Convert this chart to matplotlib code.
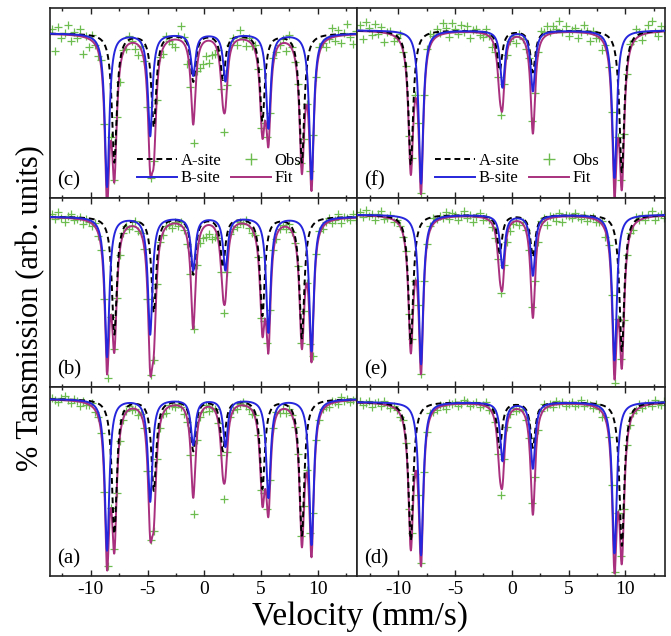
import numpy as np
import matplotlib.pyplot as plt
from matplotlib.ticker import MultipleLocator
from matplotlib.lines import Line2D

plt.rcParams['font.family'] = ['Liberation Serif', 'DejaVu Serif']
plt.rcParams['axes.unicode_minus'] = False

# line positions (mm/s): left column = full sextets, right column = lines 1,3,4,6
pos_b_left = [-8.57, -4.77, -0.98, 1.86, 5.65, 9.45]
pos_a_left = [-7.93, -4.45, -0.97, 1.64, 5.12, 8.60]
pos_b_right = [-8.00, -0.82, 1.86, 9.05]
pos_a_right = [-8.90, -1.06, 1.86, 9.70]
hw_b = 0.24
hw_a = 0.26

# baselines and line depths (arb. units, panel height = 100)
base = {'a': 93.7, 'b': 90.0, 'c': 86.8, 'd': 92.1, 'e': 91.0, 'f': 88.4}
bsite_a = [80, 54, 24, 25, 52, 77]
asite_a = [71, 48, 27, 27, 47, 72]
bsite_b = [74, 62, 28, 28, 61, 71]
asite_b = [62, 50, 30, 26, 52, 64]
bsite_c = [81, 54, 22, 25, 50, 77]
asite_c = [68, 49, 25, 24, 46, 68]
bsite_d = [81, 31, 35, 80]
asite_d = [73, 24, 24, 76]
bsite_e = [79, 28, 32, 77]
asite_e = [68, 20, 22, 72]
bsite_f = [81, 30, 32, 78]
asite_f = [71, 21, 22, 75]

# observed points: channel velocities and offsets from the fit
chan_v = np.linspace(-13.4, 13.4, 100)
resid_a = [1, 0, -1, 1, 2, 0, -1, 1, 0, -2,
           1, -1, 0, 2, -1, 0, 1, -1, 1, 0,
           1, -1, -2, 0, 1, 2, -1, 0, -2, 1,
           0, -1, 1, 0, 2, -1, 0, -2, 1, 0,
           -1, 1, 0, -2, -1, -2, -9, 1, 0, -1,
           1, -2, 0, 1, -1, -1, -8, -2, 1, 0,
           -1, 1, 2, 0, -1, -2, 1, 0, -1, 1,
           0, -1, 1, 2, -1, 0, -2, 1, 0, -1,
           1, 0, -1, 2, 1, -2, 0, -1, 1, 0,
           -1, 1, 0, -1, 2, 0, 1, -1, 0, 1]
resid_b = [2, -1, 3, 0, -2, 1, 2, -1, 0, 1,
           -2, 1, 0, -1, 2, -1, 0, 1, -3, -1,
           1, 0, -2, 1, 2, -1, 0, 3, -1, 1,
           0, -2, 1, -1, 0, 2, -1, 1, 0, -2,
           1, -1, 2, 0, -2, 1, -1, 0, -3, -5,
           -6, -5, -7, -4, 1, 0, -4, -1, 2, 0,
           -1, 1, 0, 2, -1, -2, 1, 0, -1, 2,
           0, -1, 1, -2, 0, 1, -1, 2, 0, -1,
           1, -2, 0, 1, -1, -20, 0, 2, -1, 1,
           2, -1, 0, 3, -2, 1, 0, -1, 2, -1]
resid_c = [3, -9, 4, -2, 1, 5, -3, 2, -1, 4,
           -9, 1, -4, 3, 0, -2, 5, 1, -1, 2,
           0, 3, -6, 2, -1, 4, 1, -3, -5, 2,
           1, -2, 0, 3, -1, 2, -3, 4, 0, -2,
           -4, 2, 8, 4, -6, -3, -10, 1, -9, -11,
           -8, -12, -7, -5, 2, -3, -10, -2, 4, 3,
           -2, 5, 1, -3, 2, -1, 3, 0, -4, 2,
           1, -2, 3, -1, 0, 2, -4, 5, 1, -2,
           2, 0, -3, 1, -1, 4, -2, 3, 1, -3,
           0, 5, -2, 3, -4, 1, 6, -1, -5, 2]
resid_d = [1, -1, 0, 1, -2, 0, 1, -1, 2, 0,
           -1, 1, 0, -2, 1, 0, -1, 1, 0, -1,
           1, 0, -1, 2, 0, -1, 1, 0, -2, 1,
           0, 1, -1, 0, 2, 1, -1, 0, 1, -1,
           0, 2, -1, 1, 0, -1, -4, 1, -1, 0,
           1, -1, 0, 1, -1, 0, -2, 1, 0, 2,
           3, 0, 1, -1, 2, 0, 1, -1, 0, 1,
           -1, 0, 2, -1, 1, 0, -1, 2, 0, -2,
           1, -1, 0, 1, 0, -1, 1, 0, -1, 1,
           0, 2, -1, 0, 1, -1, 2, 0, -1, 1]
resid_e = [2, -1, 3, 0, 1, -2, 1, 3, -1, 0,
           2, -1, 1, 0, -2, 1, -1, 0, 1, -1,
           0, 1, -1, 2, 3, 1, 2, 0, 3, -1,
           2, 1, -2, 0, 3, -1, 1, -3, 0, 2,
           -1, 1, 0, -2, -3, -1, -2, 1, -4, -3,
           -1, 0, -2, 1, 0, -1, -2, 2, -1, 3,
           2, -3, 1, 0, -2, 2, -3, 1, 0, -1,
           2, 0, -1, 1, -2, 0, 1, -1, 0, 2,
           -3, 1, 0, -2, 1, 0, -1, 0, 1, -2,
           3, 0, 2, -1, 1, 3, -2, 0, 1, -1]
resid_f = [3, -4, 5, 2, -2, 4, -1, 3, -5, 1,
           2, -3, 0, 4, -1, 2, -2, 1, 3, -1,
           0, 3, 5, 6, 2, 4, 1, 6, 3, -2,
           5, 2, -1, 4, 0, 3, -3, 1, 2, -1,
           -2, 3, 0, -4, -2, -1, -3, 1, -2, 0,
           1, -3, 2, 0, -2, 3, -1, 4, 2, 6,
           3, 5, 1, 4, 2, 6, 0, 3, -2, 1,
           2, -3, 0, 4, 1, -4, 2, -1, 0, -5,
           1, -2, 0, -1, 1, 0, 2, -1, 4, 1,
           5, 2, -3, 1, 4, 6, 0, -2, 3, 1]

panels = {
    'a': (bsite_a, asite_a, resid_a, pos_b_left, pos_a_left),
    'b': (bsite_b, asite_b, resid_b, pos_b_left, pos_a_left),
    'c': (bsite_c, asite_c, resid_c, pos_b_left, pos_a_left),
    'd': (bsite_d, asite_d, resid_d, pos_b_right, pos_a_right),
    'e': (bsite_e, asite_e, resid_e, pos_b_right, pos_a_right),
    'f': (bsite_f, asite_f, resid_f, pos_b_right, pos_a_right),
}
# grid layout, top row first
layout = [['c', 'f'], ['b', 'e'], ['a', 'd']]


def absorption(v, pos, depth, hw):
    out = np.zeros_like(v)
    for p, d in zip(pos, depth):
        out += d * hw ** 2 / ((v - p) ** 2 + hw ** 2)
    return out


c_obs = '#6cbc50'
c_b = '#2626dc'
c_fit = '#a8307e'

fig = plt.figure(figsize=(6.71, 6.36), dpi=100)
axes = fig.subplots(3, 2, sharex=True, sharey=True)
fig.subplots_adjust(left=0.0745, right=0.991, top=0.987, bottom=0.094,
                    wspace=0, hspace=0)

v = np.linspace(-13.6, 13.5, 2000)
for r in range(3):
    for c in range(2):
        ax = axes[r, c]
        name = layout[r][c]
        bd, ad, res, pb, pa = panels[name]
        b0 = base[name]
        absb = absorption(v, pb, bd, hw_b)
        absa = absorption(v, pa, ad, hw_a)
        fit_ch = b0 - absorption(chan_v, pb, bd, hw_b) - absorption(chan_v, pa, ad, hw_a)
        obs = fit_ch + np.array(res)

        ax.plot(chan_v, obs, '+', color=c_obs, ms=6, mew=0.9, zorder=1)
        ax.plot(v, b0 - absb - absa, color=c_fit, lw=1.4, zorder=2)
        ax.plot(v, b0 - absa, color='k', lw=1.4, ls=(0, (3, 2)), zorder=3)
        ax.plot(v, b0 - absb, color=c_b, lw=1.4, zorder=4)

        ax.text(0.022, 0.09, '(%s)' % name, transform=ax.transAxes,
                fontsize=15, va='center', ha='left')

        ax.set_xlim(-13.6, 13.5)
        ax.set_ylim(0, 100)
        ax.set_yticks([])
        ax.xaxis.set_major_locator(MultipleLocator(5))
        ax.xaxis.set_minor_locator(MultipleLocator(2.5))
        ax.tick_params(axis='x', which='both', direction='in', top=True, bottom=True,
                       labelsize=14, width=1.0, color='#222222')
        ax.tick_params(axis='x', which='major', length=4)
        ax.tick_params(axis='x', which='minor', length=2.5)
        for s in ax.spines.values():
            s.set_linewidth(1.2)
            s.set_color('#222222')

handles = [Line2D([], [], color='k', lw=1.4, ls=(0, (3, 2))),
           Line2D([], [], color=c_b, lw=1.4),
           Line2D([], [], ls='none', marker='+', color=c_obs, ms=9, mew=1.0),
           Line2D([], [], color=c_fit, lw=1.4)]
labels = ['A-site', 'B-site', 'Obs', 'Fit']
for ax, xc in [(axes[0, 0], 0.55), (axes[0, 1], 0.52)]:
    ax.legend(handles, labels, ncol=2, loc='lower center', bbox_to_anchor=(xc, -0.02),
              frameon=False, fontsize=12, handlelength=2.4, columnspacing=0.6,
              handletextpad=0.2, labelspacing=0.1)

fig.text(0.046, 0.515, '% Tansmission (arb. units)', rotation=90,
         fontsize=22, ha='center', va='center')
fig.text(0.536, 0.03, 'Velocity (mm/s)', fontsize=24, ha='center', va='center')

fig.savefig('out.png', dpi=100)
